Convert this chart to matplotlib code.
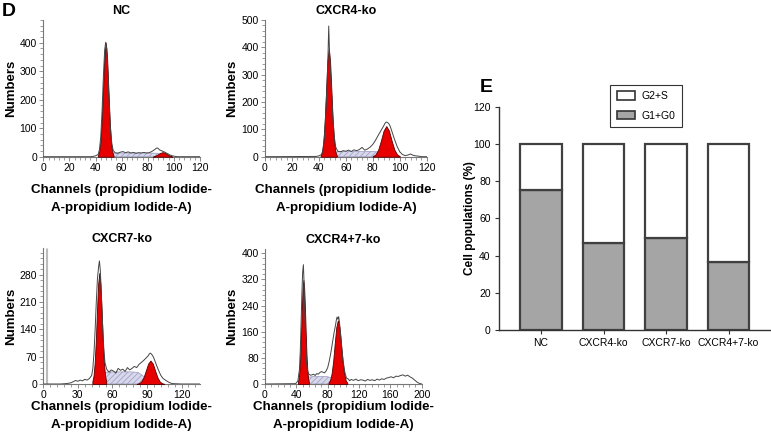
import matplotlib
matplotlib.use("Agg")
import matplotlib.pyplot as plt
from matplotlib.ticker import MultipleLocator, AutoMinorLocator
from matplotlib.patches import Patch

plt.rcParams['font.family'] = ['Liberation Sans', 'DejaVu Sans']
plt.rcParams['hatch.linewidth'] = 0.5

# ---------------- data ----------------
panel_titles = ["NC", "CXCR4-ko", "CXCR7-ko", "CXCR4+7-ko"]

# NC
nc_x = [0, 36, 38, 40, 42, 43, 44, 45, 46, 47, 47.8, 48.6, 49.5, 50.5, 51.5, 52.5, 53.5, 55, 57, 59,
        61, 63, 65, 67, 69, 71, 73, 75, 77, 79, 81, 83, 85, 87, 88, 89, 91, 93, 95, 97,
        99, 101, 103, 110, 120]
nc_y = [0, 0, 1, 3, 8, 25, 70, 160, 280, 375, 402, 380, 290, 180, 95, 45, 22, 14, 12, 16,
        18, 14, 17, 13, 15, 12, 14, 13, 15, 13, 14, 18, 24, 31, 29, 24, 20, 16, 11, 6,
        3, 1, 0, 0, 0]
nc_g1_x = [41.8, 42.8, 43.8, 44.8, 45.8, 46.8, 47.8, 48.8, 49.8, 50.8, 51.8, 52.8, 53.8]
nc_g1_y = [4, 18, 54, 130, 243, 353, 400, 353, 243, 130, 54, 18, 4]
nc_s_x = [44, 47, 50, 54, 60, 70, 80, 88, 91, 94]
nc_s_y = [0, 5, 10, 13, 13, 13, 13, 12, 6, 0]
nc_g2_x = [83.9, 85.4, 87.4, 89.4, 91.4, 93.4, 95.4, 97.4, 98.9]
nc_g2_y = [0, 2.8, 7.3, 13.2, 16, 13.2, 7.3, 2.8, 0]

# CXCR4-ko
c4_x = [0, 38, 40, 42, 43, 44, 45, 46, 46.8, 47.3, 47.8, 48.5, 49.5, 50.5, 51.5, 52.5, 54, 56, 58, 60,
        62, 64, 66, 68, 70, 72, 74, 76, 78, 80, 82, 84, 86, 88, 89, 90, 91, 92, 93, 94,
        96, 98, 100, 102, 104, 106, 108, 110, 112, 114, 116, 120]
c4_y = [0, 1, 3, 8, 25, 70, 150, 260, 380, 478, 395, 320, 220, 130, 70, 35, 20, 18, 22, 20,
        24, 19, 25, 22, 26, 34, 24, 28, 35, 45, 60, 78, 95, 112, 122, 127, 125, 120, 110, 95,
        65, 38, 18, 8, 4, 6, 10, 5, 3, 2, 0, 0]
c4_g1_x = [41.3, 42.3, 43.3, 44.3, 45.3, 46.3, 47.3, 48.3, 49.3, 50.3, 51.3, 52.3, 53.3]
c4_g1_y = [4, 17, 53, 128, 240, 349, 395, 349, 240, 128, 53, 17, 4]
c4_s_x = [44, 47, 50, 54, 60, 70, 80, 85, 90, 95]
c4_s_y = [0, 6, 13, 18, 19, 19, 19, 17, 8, 0]
c4_g2_x = [80, 82, 84, 86, 88, 90, 92, 94, 96, 98, 100]
c4_g2_y = [1.9, 8.2, 25.8, 58.2, 95.1, 112, 95.1, 58.2, 25.8, 8.2, 1.9]

# CXCR7-ko
c7_debris_x = [2.2, 3.4]
c7_x = [0, 5, 10, 15, 20, 24, 26, 28, 30, 32, 34, 36, 38, 40, 42, 43, 44, 45, 46, 47,
        48, 48.7, 49.5, 50.5, 51.5, 52.5, 53.5, 55, 57, 59, 61, 63, 65, 67, 69, 71, 73, 75, 77, 79,
        81, 83, 85, 87, 89, 91, 92, 93, 94, 95, 96, 98, 100, 102, 104, 106, 108, 110, 112, 120, 136]
c7_y = [0, 0, 0, 0, 1, 3, 6, 9, 7, 10, 8, 12, 10, 14, 22, 40, 80, 140, 210, 270,
        300, 315, 290, 220, 150, 90, 55, 38, 30, 36, 33, 28, 40, 35, 38, 32, 42, 36, 40, 45,
        42, 50, 55, 60, 66, 72, 77, 79, 76, 72, 66, 50, 35, 22, 14, 10, 6, 3, 1, 0, 0]
c7_g1_x = [42.6, 43.6, 44.6, 45.6, 46.6, 47.6, 48.6, 49.6, 50.6, 51.6, 52.6, 53.6, 54.6]
c7_g1_y = [6.9, 21.4, 54.5, 112, 188, 256, 284, 256, 188, 112, 54.5, 21.4, 6.9]
c7_s_x = [43, 46, 49, 52, 56, 65, 75, 82, 86, 90, 94]
c7_s_y = [0, 8, 18, 28, 31, 31, 31, 30, 22, 10, 0]
c7_g2_x = [81, 83, 85, 87, 89, 91, 93, 95, 97, 99, 101, 103, 105]
c7_g2_y = [0.4, 1.9, 6.5, 17.3, 34.5, 52.3, 60, 52.3, 34.5, 17.3, 6.5, 1.9, 0.4]

# CXCR4+7-ko
c47_x = [0, 38, 40, 42, 44, 45, 46, 47, 48, 49, 50, 51, 52, 53, 54, 55, 56, 58, 60, 62,
         64, 66, 68, 70, 72, 74, 76, 78, 80, 82, 84, 86, 88, 90, 91, 92, 93, 94, 95, 96,
         97, 98, 100, 102, 104, 106, 108, 110, 113, 116, 119, 122, 125, 128, 131, 134, 137, 140, 143, 146,
         149, 152, 155, 158, 161, 164, 167, 170, 173, 176, 179, 182, 185, 188, 191, 194, 197, 200]
c47_y = [0, 1, 3, 10, 45, 100, 180, 270, 340, 365, 300, 200, 120, 70, 45, 35, 30, 27, 28, 30,
         26, 32, 30, 35, 38, 36, 34, 40, 50, 70, 95, 125, 155, 180, 195, 205, 198, 206, 190, 165,
         140, 110, 65, 35, 18, 16, 10, 14, 11, 15, 10, 13, 12, 9, 14, 11, 13, 10, 15, 12,
         16, 14, 18, 20, 22, 19, 24, 23, 26, 28, 24, 27, 22, 18, 12, 6, 2, 0]
c47_g1_x = [42, 43, 44, 45, 46, 47, 48, 49, 50, 51, 52, 53, 54, 55, 56]
c47_g1_y = [6, 18, 43, 88, 155, 231, 294, 318, 294, 231, 155, 88, 43, 18, 6]
c47_s_x = [44, 48, 52, 56, 62, 70, 78, 84, 88, 92]
c47_s_y = [0, 6, 14, 21, 23, 23, 23, 20, 10, 0]
c47_g2_x = [81, 83, 85, 87, 89, 91, 93, 95, 97, 99, 101, 103, 105]
c47_g2_y = [3.3, 11.5, 32, 70, 124, 174, 195, 174, 124, 70, 32, 11.5, 3.3]

# Bar chart (panel E)
bar_groups = ["NC", "CXCR4-ko", "CXCR7-ko", "CXCR4+7-ko"]
g1_g0 = [75.5, 47, 49.5, 36.5]
g2_s = [100 - v for v in g1_g0]

# ---------------- figure ----------------
W, H = 771, 440
fig = plt.figure(figsize=(W / 100, H / 100), dpi=100)


def fr(left, top, right, bottom):
    return [left / W, 1 - bottom / H, (right - left) / W, (bottom - top) / H]


RED = '#e60000'
RED_EDGE = '#5a0000'
LAV = '#d8d8ec'
AX_COL = '#777777'


def hist_panel(rect, title, x, y, g1x, g1y, sx, sy, g2x, g2y, xlim, ylim, xmaj, ymaj,
               ylab_x, xlab_y):
    ax = fig.add_axes(rect)
    ax.fill_between(sx, sy, 0, facecolor=LAV, edgecolor='#9a9ac0', hatch='//////', linewidth=0.5, zorder=2)
    ax.fill_between(g1x, g1y, 0, facecolor=RED, edgecolor=RED_EDGE, linewidth=0.6, zorder=3)
    ax.fill_between(g2x, g2y, 0, facecolor=RED, edgecolor=RED_EDGE, linewidth=0.6, zorder=3)
    ax.plot(x, y, color='#444444', lw=0.7, zorder=4)
    ax.set_xlim(*xlim)
    ax.set_ylim(*ylim)
    ax.xaxis.set_major_locator(MultipleLocator(xmaj))
    ax.yaxis.set_major_locator(MultipleLocator(ymaj))
    ax.xaxis.set_minor_locator(AutoMinorLocator(5))
    ax.yaxis.set_minor_locator(AutoMinorLocator(5))
    for s in ['top', 'right']:
        ax.spines[s].set_visible(False)
    for s in ['left', 'bottom']:
        ax.spines[s].set_color(AX_COL)
        ax.spines[s].set_linewidth(0.8)
    ax.tick_params(which='major', length=3, width=0.6, color=AX_COL, labelsize=7.5, pad=1.5)
    ax.tick_params(which='minor', length=2, width=0.5, color=AX_COL)
    ax.set_title(title, fontsize=9, fontweight='bold', pad=4)
    ax.set_ylabel('Numbers', fontsize=9.5, fontweight='bold')
    ax.yaxis.set_label_coords(ylab_x, 0.5)
    ax.set_xlabel('Channels (propidium Iodide-\nA-propidium Iodide-A)', fontsize=9.6,
                  fontweight='bold', linespacing=1.65)
    ax.xaxis.set_label_coords(0.5, xlab_y)
    return ax


ax1 = hist_panel(fr(43.3, 20, 200, 156.7), panel_titles[0], nc_x, nc_y, nc_g1_x, nc_g1_y,
                 nc_s_x, nc_s_y, nc_g2_x, nc_g2_y, (0, 120), (0, 480), 20, 100, -0.17, -0.2)
ax2 = hist_panel(fr(265, 20, 426.7, 156.7), panel_titles[1], c4_x, c4_y, c4_g1_x, c4_g1_y,
                 c4_s_x, c4_s_y, c4_g2_x, c4_g2_y, (0, 120), (0, 500), 20, 100, -0.165, -0.2)
ax3 = hist_panel(fr(43.3, 248, 200, 384), panel_titles[2], c7_x, c7_y, c7_g1_x, c7_g1_y,
                 c7_s_x, c7_s_y, c7_g2_x, c7_g2_y, (0, 136), (0, 348), 30, 70, -0.17, -0.125)
ax3.vlines(c7_debris_x, 0, 348, color='#bbbbbb', lw=0.8, zorder=1)
ax4 = hist_panel(fr(265, 249, 421.7, 384), panel_titles[3], c47_x, c47_y, c47_g1_x, c47_g1_y,
                 c47_s_x, c47_s_y, c47_g2_x, c47_g2_y, (0, 200), (0, 413), 40, 80, -0.17, -0.125)

# ---------------- panel E ----------------
axE = fig.add_axes(fr(499, 106.7, 771, 330))
xs = list(range(len(bar_groups)))
BAR_EDGE = '#404040'
axE.bar(xs, g1_g0, width=0.668, color='#a5a5a5', edgecolor=BAR_EDGE, linewidth=1.6, label='G1+G0', zorder=2)
axE.bar(xs, g2_s, bottom=g1_g0, width=0.668, color='white', edgecolor=BAR_EDGE, linewidth=1.6,
        label='G2+S', zorder=2)
axE.set_xlim(-0.673, 3.68)
axE.set_ylim(0, 120)
axE.yaxis.set_major_locator(MultipleLocator(20))
axE.set_xticks(xs)
axE.set_xticklabels(bar_groups)
for s in ['top', 'right']:
    axE.spines[s].set_visible(False)
for s in ['left', 'bottom']:
    axE.spines[s].set_color('#333333')
    axE.spines[s].set_linewidth(1.0)
axE.tick_params(length=3, width=0.8, color='#333333', labelsize=7.5, pad=3)
axE.set_ylabel('Cell populations (%)', fontsize=8.5, fontweight='bold')
axE.yaxis.set_label_coords(-0.085, 0.5)
handles = [Patch(facecolor='white', edgecolor='#333333', linewidth=1.2, label='G2+S'),
           Patch(facecolor='#a5a5a5', edgecolor='#333333', linewidth=1.2, label='G1+G0')]
leg = axE.legend(handles=handles, loc='upper left', bbox_to_anchor=(0.39, 1.12), fontsize=7.5,
                 frameon=True, fancybox=False, edgecolor='#333333', framealpha=1,
                 handlelength=1.8, handleheight=0.9, borderpad=0.6, labelspacing=0.9,
                 handletextpad=0.6)
leg.get_frame().set_linewidth(0.8)

# panel letters
fig.text(2 / W, 1 - 16 / H, 'D', fontsize=14, fontweight='bold', va='baseline')
fig.text(480 / W, 1 - 92 / H, 'E', fontsize=14, fontweight='bold', va='baseline')

fig.savefig('out.png', dpi=100)
